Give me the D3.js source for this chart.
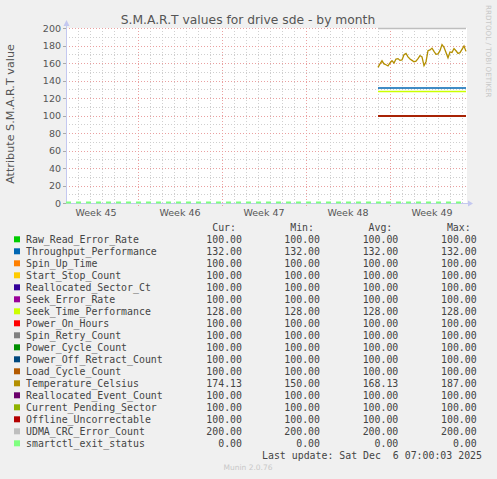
<!DOCTYPE html>
<html>
<head>
<meta charset="utf-8">
<script src="https://cdn.jsdelivr.net/npm/d3@7"></script>
<style>
  body { margin: 0; background: #f0f0f0; }
  svg { display: block; font-family: "DejaVu Sans", sans-serif; }
  .mono { font-family: "DejaVu Sans Mono", monospace; font-size: 9.9px; fill: #444; white-space: pre; }
</style>
</head>
<body>
<div class="plot"></div>
<script>
// ---- data ----
var names = ["Raw_Read_Error_Rate", "Throughput_Performance", "Spin_Up_Time", "Start_Stop_Count",
  "Reallocated_Sector_Ct", "Seek_Error_Rate", "Seek_Time_Performance", "Power_On_Hours",
  "Spin_Retry_Count", "Power_Cycle_Count", "Power_Off_Retract_Count", "Load_Cycle_Count",
  "Temperature_Celsius", "Reallocated_Event_Count", "Current_Pending_Sector",
  "Offline_Uncorrectable", "UDMA_CRC_Error_Count", "smartctl_exit_status"];
var colors = ["#00cc00", "#0066b3", "#ff8000", "#ffcc00", "#330099", "#990099", "#ccff00",
  "#ff0000", "#808080", "#008f00", "#00487d", "#b35a00", "#b38f00", "#6b006b", "#8fb300",
  "#b30000", "#bebebe", "#80ff80"];
var curVals = [100, 132, 100, 100, 100, 100, 128, 100, 100, 100, 100, 100, 174.13, 100, 100, 100, 200, 0];
var minVals = [100, 132, 100, 100, 100, 100, 128, 100, 100, 100, 100, 100, 150, 100, 100, 100, 200, 0];
var avgVals = [100, 132, 100, 100, 100, 100, 128, 100, 100, 100, 100, 100, 168.13, 100, 100, 100, 200, 0];
var maxVals = [100, 132, 100, 100, 100, 100, 128, 100, 100, 100, 100, 100, 187, 100, 100, 100, 200, 0];

// temperature samples, one every 4 hours from dataStart
var temperature = [155, 159, 162.5, 159, 158, 156.6, 160, 162.7, 160, 164.5, 165, 163, 163.5,
  169.5, 171, 167, 164.5, 163, 161.5, 162, 165, 168.5, 167, 157, 161.5, 174, 175, 177, 173.3,
  170, 170.5, 174.1, 181, 178, 172, 166, 172.6, 172, 176.5, 174, 171, 171.8, 175.6, 179.4, 173.3];

var weekStarts = ["2025-11-03", "2025-11-10", "2025-11-17", "2025-11-24", "2025-12-01"];
var weekLabels = ["Week 45", "Week 46", "Week 47", "Week 48", "Week 49"];
var yTicks = [0, 20, 40, 60, 80, 100, 120, 140, 160, 180, 200];

var viewStart = new Date(Date.UTC(2025, 10, 4, 0, 0));
var viewEnd = new Date(Date.UTC(2025, 11, 7, 10, 0));
var dataStart = new Date(Date.UTC(2025, 10, 30, 0, 0));
var stepHours = 4;

// ---- layout ----
var W = 497, H = 479;
var plot = {left: 66, right: 467, top: 28, bottom: 203};

var svg = d3.select(".plot").append("svg")
    .attr("width", W).attr("height", H);

svg.append("rect").attr("width", W).attr("height", H).attr("fill", "#f0f0f0");

var x = d3.scaleUtc().domain([viewStart, viewEnd]).range([plot.left, plot.right]);
var y = d3.scaleLinear().domain([0, 200]).range([plot.bottom, plot.top]);

var dataEnd = d3.utcHour.offset(dataStart, stepHours * (temperature.length - 1));

svg.append("rect")
    .attr("x", plot.left).attr("y", plot.top)
    .attr("width", plot.right - plot.left).attr("height", plot.bottom - plot.top)
    .attr("fill", "#ffffff");

// grid
var grid = svg.append("g").attr("class", "grid").style("shape-rendering", "crispEdges");
var weekDates = weekStarts.map(function(s) { return new Date(s + "T00:00:00Z"); });

// minor horizontal every 10
grid.selectAll(".hminor")
    .data(d3.range(10, 200, 20))
    .enter().append("line")
    .attr("x1", plot.left).attr("x2", plot.right)
    .attr("y1", function(d) { return Math.round(y(d)) + 0.5; })
    .attr("y2", function(d) { return Math.round(y(d)) + 0.5; })
    .style("stroke", "#cfcfcf").style("stroke-dasharray", "1,2");

// minor vertical every day
grid.selectAll(".vminor")
    .data(x.ticks(d3.utcDay.every(1)))
    .enter().append("line")
    .attr("x1", function(d) { return Math.round(x(d)) + 0.5; })
    .attr("x2", function(d) { return Math.round(x(d)) + 0.5; })
    .attr("y1", plot.top).attr("y2", plot.bottom)
    .style("stroke", "#cfcfcf").style("stroke-dasharray", "1,2");

// major horizontal
grid.selectAll(".hmajor")
    .data(yTicks.filter(function(d) { return d > 0; }))
    .enter().append("line")
    .attr("x1", plot.left).attr("x2", plot.right)
    .attr("y1", function(d) { return Math.round(y(d)) + 0.5; })
    .attr("y2", function(d) { return Math.round(y(d)) + 0.5; })
    .style("stroke", "#eaa0a0").style("stroke-dasharray", "1,2");

// major vertical (week boundaries)
grid.selectAll(".vmajor")
    .data(weekDates.filter(function(d) { return d > viewStart; }))
    .enter().append("line")
    .attr("x1", function(d) { return Math.round(x(d)) + 0.5; })
    .attr("x2", function(d) { return Math.round(x(d)) + 0.5; })
    .attr("y1", plot.top).attr("y2", plot.bottom + 3)
    .style("stroke", "#eaa0a0").style("stroke-dasharray", "1,2");

// ---- axes ----
var axisColor = "#c4c8f0";
svg.append("line")
    .attr("x1", plot.left + 0.5).attr("x2", plot.left + 0.5)
    .attr("y1", plot.bottom).attr("y2", plot.top - 6)
    .style("stroke", axisColor);
svg.append("path")
    .attr("d", "M" + (plot.left - 2.5) + "," + (plot.top - 2) + "L" + (plot.left + 0.5) + "," + (plot.top - 8) +
      "L" + (plot.left + 3.5) + "," + (plot.top - 2) + "Z")
    .attr("fill", axisColor);
svg.append("line")
    .attr("x1", plot.left).attr("x2", plot.right + 3)
    .attr("y1", plot.bottom + 0.5).attr("y2", plot.bottom + 0.5)
    .style("stroke", axisColor);
svg.append("path")
    .attr("d", "M" + (plot.right + 1) + "," + (plot.bottom - 2.5) + "L" + (plot.right + 6) + "," + (plot.bottom + 0.5) +
      "L" + (plot.right + 1) + "," + (plot.bottom + 3.5) + "Z")
    .attr("fill", axisColor);

// ---- series ----
var line = d3.line()
    .x(function(d) { return x(d.t); })
    .y(function(d) { return y(d.v); });

var series = names.map(function(name, i) {
  var pts;
  if (name === "Temperature_Celsius") {
    pts = temperature.map(function(v, k) {
      return {t: d3.utcHour.offset(dataStart, k * stepHours), v: v};
    });
  } else if (name === "smartctl_exit_status") {
    pts = [{t: viewStart, v: curVals[i]}, {t: dataEnd, v: curVals[i]}];
  } else {
    pts = [{t: dataStart, v: curVals[i]}, {t: dataEnd, v: curVals[i]}];
  }
  return {name: name, color: colors[i], values: pts};
});

svg.append("g").selectAll("path")
    .data(series)
    .enter().append("path")
    .attr("d", function(d) { return line(d.values); })
    .attr("fill", "none")
    .style("stroke", function(d) { return d.color; })
    .style("stroke-width", function(d) {
      if (d.name === "smartctl_exit_status") return 2;
      return d.name === "Temperature_Celsius" ? 1.3 : 1.4;
    })
    .style("stroke-dasharray", function(d) { return d.name === "smartctl_exit_status" ? "5,5" : null; })
    .attr("transform", function(d) {
      if (d.name === "smartctl_exit_status") return "translate(0,-0.5)";
      return d.name === "Temperature_Celsius" ? null : "translate(0,0.5)";
    });

// y tick marks and labels
var yAxis = svg.append("g");
yAxis.selectAll("line")
    .data(yTicks)
    .enter().append("line")
    .attr("x1", plot.left - 3).attr("x2", plot.left)
    .attr("y1", function(d) { return Math.round(y(d)) + 0.5; })
    .attr("y2", function(d) { return Math.round(y(d)) + 0.5; })
    .style("stroke", "#aaaaaa");
yAxis.selectAll("text")
    .data(yTicks)
    .enter().append("text")
    .attr("x", plot.left - 5)
    .attr("y", function(d) { return y(d) + 3.5; })
    .attr("text-anchor", "end")
    .style("font-size", "9.5px").style("fill", "#555")
    .text(function(d) { return d; });

// week labels, centred on each week
svg.append("g").selectAll("text")
    .data(weekDates)
    .enter().append("text")
    .attr("x", function(d) { return x(d3.utcHour.offset(d, 84)); })
    .attr("y", plot.bottom + 13)
    .attr("text-anchor", "middle")
    .style("font-size", "9.5px").style("fill", "#555")
    .text(function(d, i) { return weekLabels[i]; });

// titles
svg.append("text")
    .attr("x", 248).attr("y", 23.5)
    .attr("text-anchor", "middle")
    .style("font-size", "12.3px").style("fill", "#555")
    .text("S.M.A.R.T values for drive sde - by month");

svg.append("text")
    .attr("transform", "translate(14," + 114 + ") rotate(-90)")
    .attr("text-anchor", "middle")
    .style("font-size", "11.2px").style("fill", "#555")
    .text("Attribute S.M.A.R.T value");

svg.append("text")
    .attr("transform", "translate(485.5,5) rotate(90)")
    .style("font-size", "7.2px").style("fill", "#c8c8c8")
    .text("RRDTOOL / TOBI OETIKER");

// ---- legend ----
var rowY = d3.scaleLinear().domain([0, 1]).range([239.3, 251.3]);
var cols = [242, 320, 398.3, 476.7];
var heads = ["Cur:", "Min:", "Avg:", "Max:"];
var colVals = [curVals, minVals, avgVals, maxVals];
var fmt = d3.format(".2f");

var leg = svg.append("g");
leg.selectAll(".head")
    .data(heads)
    .enter().append("text")
    .attr("class", "mono")
    .attr("x", function(d, i) { return cols[i] - 6; })
    .attr("y", rowY(-1) + 3.5)
    .attr("text-anchor", "end")
    .text(function(d) { return d; });

var row = leg.selectAll(".row")
    .data(names)
    .enter().append("g")
    .attr("transform", function(d, i) { return "translate(0," + rowY(i) + ")"; });

row.append("rect")
    .attr("x", 14).attr("y", -3)
    .attr("width", 6).attr("height", 6)
    .attr("fill", function(d, i) { return colors[i]; });

row.append("text")
    .attr("class", "mono")
    .attr("x", 26).attr("y", 3.5)
    .text(function(d) { return d; });

cols.forEach(function(cx, c) {
  row.append("text")
      .attr("class", "mono")
      .attr("x", cx).attr("y", 3.5)
      .attr("text-anchor", "end")
      .text(function(d, i) { return fmt(colVals[c][i]); });
});

svg.append("text")
    .attr("class", "mono")
    .attr("x", 482).attr("y", 458.5)
    .attr("text-anchor", "end")
    .text("Last update: Sat Dec  6 07:00:03 2025");

svg.append("text")
    .attr("x", 248).attr("y", 470)
    .attr("text-anchor", "middle")
    .style("font-size", "7.5px").style("fill", "#c8c8c8")
    .text("Munin 2.0.76");
</script>
</body>
</html>
